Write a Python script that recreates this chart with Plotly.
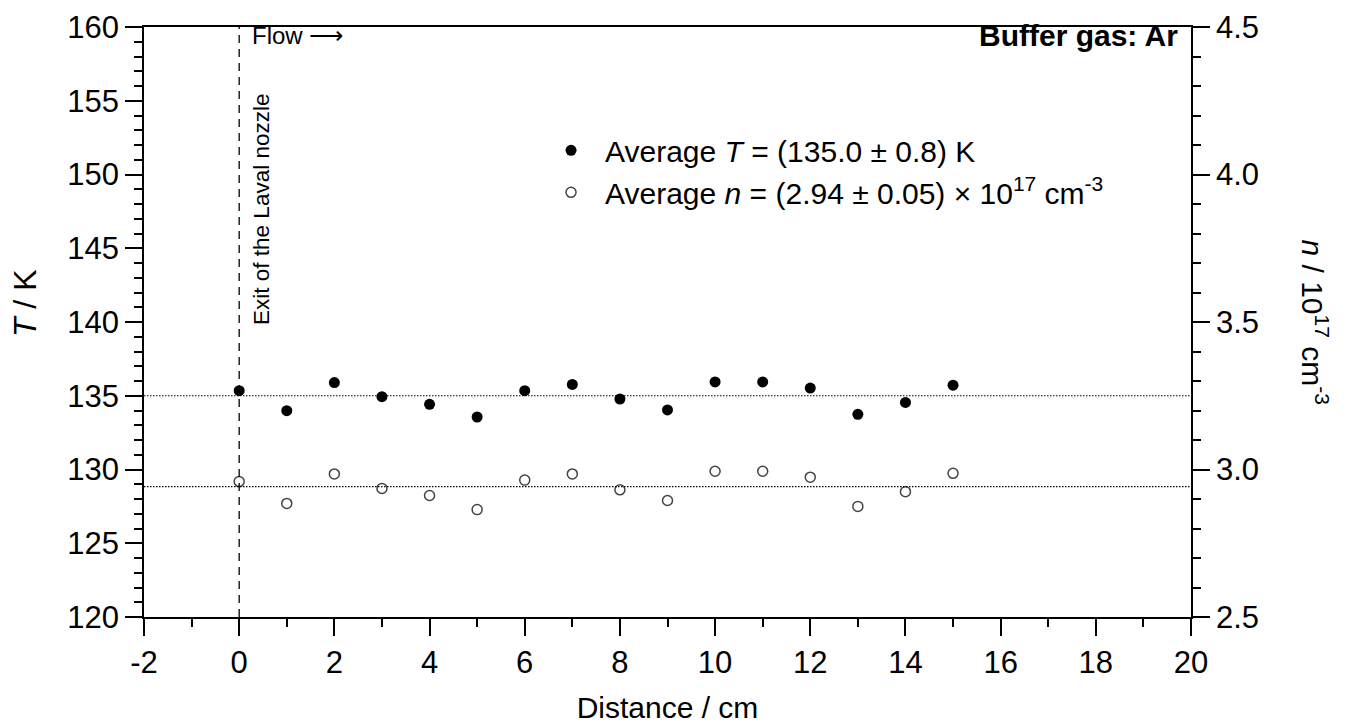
import plotly.graph_objects as go

# ---------------- data ----------------
distance_cm = [0, 1, 2, 3, 4, 5, 6, 7, 8, 9, 10, 11, 12, 13, 14, 15]
temperature_K = [135.34, 133.99, 135.89, 134.94, 134.42, 133.56, 135.34, 135.77,
                 134.78, 134.04, 135.94, 135.94, 135.52, 133.74, 134.55, 135.72]
density_1e17 = [2.959, 2.885, 2.985, 2.936, 2.912, 2.864, 2.964, 2.985,
                2.931, 2.895, 2.994, 2.994, 2.974, 2.875, 2.925, 2.987]
avg_T = 135.0
avg_n = 2.942
nozzle_exit_x = 0

x_ticks = [-2, 0, 2, 4, 6, 8, 10, 12, 14, 16, 18, 20]
x_ticklabels = ["-2", "0", "2", "4", "6", "8", "10", "12", "14", "16", "18", "20"]
T_ticks = [120, 125, 130, 135, 140, 145, 150, 155, 160]
n_ticks = [2.5, 3.0, 3.5, 4.0, 4.5]

FONT = "Liberation Sans, Arial, sans-serif"

fig = go.Figure()

fig.add_trace(go.Scatter(
    x=distance_cm, y=temperature_K, mode="markers",
    name="Average <i>T</i> = (135.0 ± 0.8) K",
    marker=dict(symbol="circle", size=11, color="black"),
    yaxis="y",
))
fig.add_trace(go.Scatter(
    x=distance_cm, y=density_1e17, mode="markers",
    name="Average <i>n</i> = (2.94 ± 0.05) × 10<sup>17</sup> cm<sup>-3</sup>",
    marker=dict(symbol="circle-open", size=10, color="#444444", line=dict(width=1.5)),
    yaxis="y2",
))

# reference lines
fig.add_shape(type="line", xref="paper", yref="y", x0=0, x1=1, y0=avg_T, y1=avg_T,
              line=dict(color="black", width=1.2, dash="1.5px,1.5px"))
fig.add_shape(type="line", xref="paper", yref="y2", x0=0, x1=1, y0=avg_n, y1=avg_n,
              line=dict(color="black", width=1.2, dash="1.5px,1.5px"))
fig.add_shape(type="line", xref="x", yref="paper", x0=nozzle_exit_x, x1=nozzle_exit_x, y0=0, y1=1,
              line=dict(color="black", width=1.3, dash="8px,6px"))

axis_common = dict(
    showline=True, linecolor="black", linewidth=1.5,
    ticks="outside", ticklen=17, tickwidth=1.5, tickcolor="black",
    showgrid=False, zeroline=False, automargin=False,
    tickfont=dict(family=FONT, size=31, color="black"),
)

fig.update_layout(
    width=1349, height=724,
    margin=dict(l=144, r=158, t=27, b=107),
    paper_bgcolor="white", plot_bgcolor="white",
    font=dict(family=FONT, color="black"),
    xaxis=dict(
        range=[-2, 20], tickvals=x_ticks, ticktext=x_ticklabels, mirror=True,
        minor=dict(dtick=1, ticks="outside", ticklen=8, tickwidth=1.5, tickcolor="black"),
        title=dict(text="Distance / cm", font=dict(family=FONT, size=30), standoff=20),
        **axis_common,
    ),
    yaxis=dict(
        range=[120, 160], tickvals=T_ticks,
        minor=dict(dtick=1, ticks="outside", ticklen=8, tickwidth=1.5, tickcolor="black"),
        **axis_common,
    ),
    yaxis2=dict(
        range=[2.5, 4.5], tickvals=n_ticks, tickformat=".1f",
        overlaying="y", side="right",
        minor=dict(dtick=0.1, ticks="outside", ticklen=8, tickwidth=1.5, tickcolor="black"),
        **axis_common,
    ),
    legend=dict(
        x=0.3754, y=0.835, xanchor="left", yanchor="top",
        bgcolor="rgba(0,0,0,0)", font=dict(family=FONT, size=30),
        itemwidth=58,
    ),
    showlegend=True,
)

# left axis title
fig.add_annotation(
    text="<i>T</i> / K", textangle=-90,
    xref="paper", yref="paper", x=-0.1137, y=0.532,
    xanchor="center", yanchor="middle", showarrow=False,
    font=dict(family=FONT, size=32),
)
# right axis title
fig.add_annotation(
    text="<i>n</i> / 10<sup>17</sup> cm<sup>-3</sup>", textangle=90,
    xref="paper", yref="paper", x=1.118, y=0.50,
    xanchor="center", yanchor="middle", showarrow=False,
    font=dict(family=FONT, size=30),
)
fig.add_annotation(
    text="Flow \u27f6", xref="x", yref="paper", x=0.23, y=0.986,
    xanchor="left", yanchor="middle", showarrow=False,
    font=dict(family=FONT, size=24),
)
fig.add_annotation(
    text="Exit of the Laval nozzle", textangle=-90,
    xref="x", yref="paper", x=0.48, y=0.690,
    xanchor="center", yanchor="middle", showarrow=False,
    font=dict(family=FONT, size=22.5),
)
fig.add_annotation(
    text="<b>Buffer gas: Ar</b>", xref="paper", yref="paper", x=0.9895, y=0.986,
    xanchor="right", yanchor="middle", showarrow=False,
    font=dict(family=FONT, size=30),
)

fig.write_html("out.html")
